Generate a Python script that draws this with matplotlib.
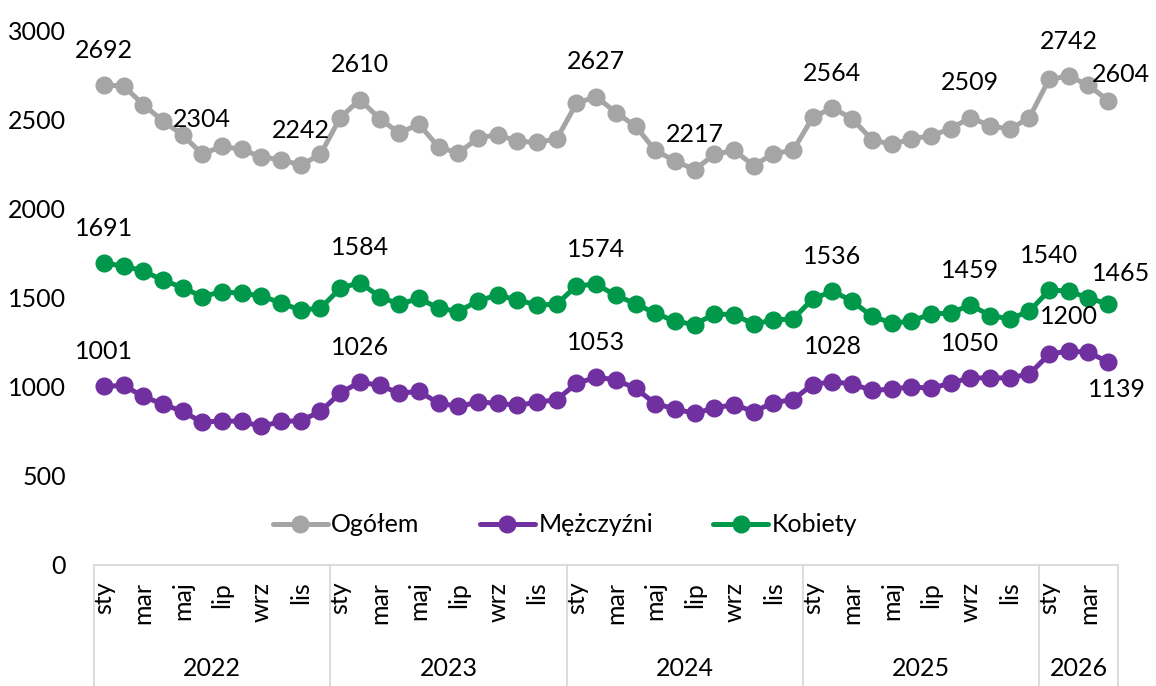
#!/usr/bin/env python3
"""
Monthly counts 2022-2026: Ogółem, Mężczyźni, Kobiety, with a two-level month/year axis.
"""

import matplotlib

matplotlib.use("Agg")
import matplotlib.pyplot as plt
import matplotlib.transforms as mtransforms

FONT_SIZE = 18
plt.rcParams["font.family"] = ["Lato", "DejaVu Sans"]

YEARS = ["2022", "2023", "2024", "2025", "2026"]
MONTHS_PER_YEAR = [12, 12, 12, 12, 4]
MONTH_NAMES = ["sty", "lut", "mar", "kwi", "maj", "cze",
               "lip", "sie", "wrz", "paź", "lis", "gru"]

ogolem = [
    2692, 2686, 2582, 2490, 2411, 2304, 2348, 2330, 2288, 2273, 2242, 2303,
    2508, 2610, 2503, 2422, 2472, 2343, 2310, 2394, 2413, 2376, 2370, 2389,
    2589, 2627, 2537, 2461, 2325, 2266, 2217, 2302, 2325, 2240, 2307, 2325,
    2510, 2564, 2502, 2385, 2358, 2389, 2407, 2446, 2509, 2464, 2443, 2509,
    2723, 2742, 2690, 2604,
]
mezczyzni = [
    1001, 1007, 945, 902, 861, 800, 809, 805, 777, 805, 809, 861,
    964, 1026, 1007, 964, 973, 908, 889, 913, 908, 895, 913, 927,
    1018, 1053, 1038, 991, 905, 875, 850, 880, 900, 860, 910, 928,
    1012, 1028, 1014, 980, 985, 1000, 990, 1020, 1050, 1048, 1050, 1070,
    1182, 1200, 1192, 1139,
]
kobiety = [
    1691, 1678, 1648, 1598, 1555, 1505, 1533, 1523, 1510, 1468, 1430, 1440,
    1551, 1584, 1505, 1462, 1495, 1440, 1421, 1481, 1514, 1486, 1458, 1462,
    1566, 1574, 1512, 1465, 1412, 1367, 1348, 1408, 1404, 1351, 1374, 1380,
    1492, 1536, 1480, 1395, 1357, 1367, 1408, 1412, 1459, 1399, 1380, 1423,
    1540, 1538, 1495, 1465,
]

# indices of points carrying data labels
labels_ogolem = [0, 5, 10, 13, 25, 30, 37, 44, 49, 51]
labels_kobiety = [0, 13, 25, 37, 44, 48, 51]
labels_mezczyzni = [0, 13, 25, 37, 44, 49, 51]

# labels nudged away from their neighbours (series, index) -> offset in points
LABEL_NUDGE = {
    ("Ogółem", 51): (9, 19),
    ("Kobiety", 51): (9, 22),
    ("Mężczyźni", 51): (6, -20),
}


def main() -> None:
    n = sum(MONTHS_PER_YEAR)
    x = list(range(n))
    month_labels = []
    for cnt in MONTHS_PER_YEAR:
        month_labels += MONTH_NAMES[:cnt]

    fig = plt.figure(figsize=(11.56, 6.86), dpi=100)
    ax = fig.add_axes([94 / 1156, 1 - 565 / 686, 1024 / 1156, 535 / 686])

    series = [
        ("Ogółem", ogolem, "#A5A5A5", labels_ogolem),
        ("Mężczyźni", mezczyzni, "#7030A0", labels_mezczyzni),
        ("Kobiety", kobiety, "#00994C", labels_kobiety),
    ]
    for name, vals, color, lab_idx in series:
        ax.plot(x, vals, color=color, linewidth=3.6, marker="o",
                markersize=12, label=name, solid_capstyle="round")
        for i in lab_idx:
            offset = LABEL_NUDGE.get((name, i), (0, 25))
            ax.annotate(str(vals[i]), (x[i], vals[i]), xytext=offset,
                        textcoords="offset points", ha="center", va="center",
                        fontsize=FONT_SIZE)

    ax.set_xlim(-0.5, n - 0.5)
    ax.set_ylim(0, 3000)
    ax.set_yticks(range(0, 3001, 500))
    ax.tick_params(axis="y", length=0, pad=20, labelsize=FONT_SIZE)

    ticks = [i for i in x if month_labels[i] in ("sty", "mar", "maj", "lip", "wrz", "lis")]
    ax.set_xticks(ticks)
    ax.set_xticklabels([month_labels[i] for i in ticks], rotation=90,
                       fontsize=FONT_SIZE)
    ax.tick_params(axis="x", length=0, pad=12)

    for side in ("left", "right", "top"):
        ax.spines[side].set_visible(False)
    ax.spines["bottom"].set_color("#D9D9D9")
    ax.spines["bottom"].set_linewidth(1.3)

    # year level of the category axis
    trans = mtransforms.blended_transform_factory(ax.transData, ax.transAxes)
    depth = -(686 - 565) / 535
    start = 0
    bounds = [-0.5]
    for year, cnt in zip(YEARS, MONTHS_PER_YEAR):
        bounds.append(start + cnt - 0.5)
        ax.text(start + (cnt - 1) / 2, -0.193, year, transform=trans,
                ha="center", va="center", fontsize=FONT_SIZE)
        start += cnt
    for b in bounds:
        ax.plot([b, b], [0, depth], transform=trans, color="#D9D9D9",
                linewidth=1.3, clip_on=False)

    ax.legend(loc="center", bbox_to_anchor=(565 / 1156, 1 - 525 / 686),
              bbox_transform=fig.transFigure, ncol=3, frameon=False,
              fontsize=FONT_SIZE, handlelength=2.2, handletextpad=0.15,
              columnspacing=2.4)

    fig.savefig("out.png", dpi=100)
    plt.close(fig)


if __name__ == "__main__":
    main()
